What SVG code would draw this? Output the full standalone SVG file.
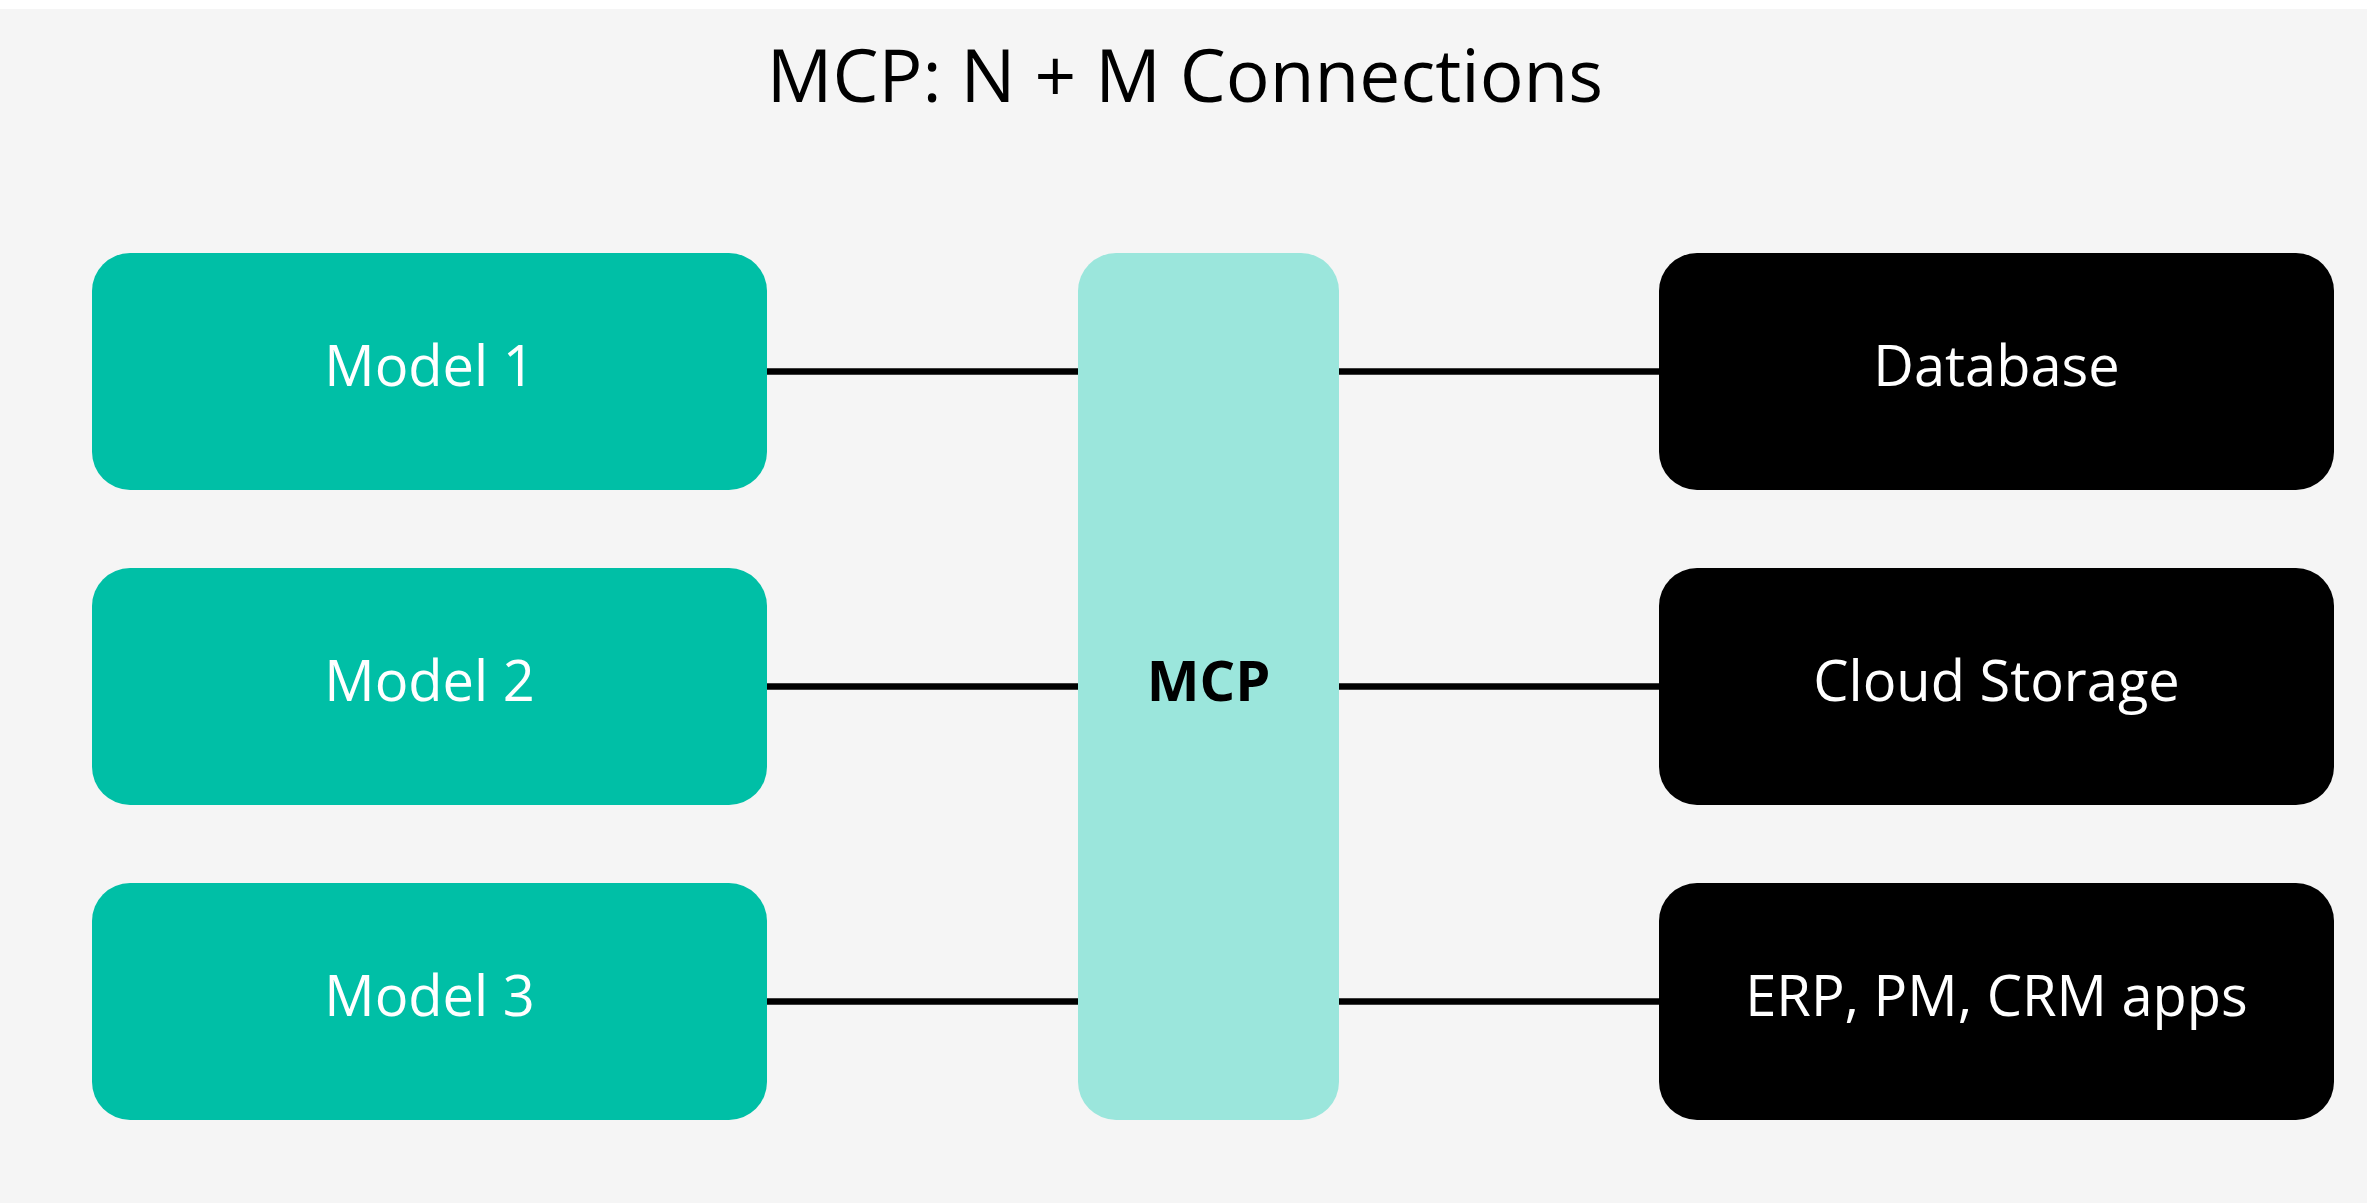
<svg xmlns="http://www.w3.org/2000/svg" width="2367" height="1203" viewBox="0 0 2367 1203">
  <style>
    .lbl { font-family: "Open Sans", "Liberation Sans", sans-serif; font-size: 56px; text-anchor: middle; }
    .model { fill: #00BFA6; }
    .res { fill: #000000; }
    .hub { fill: #9BE6DC; }
    .conn { stroke: #000000; stroke-width: 6.5; fill: none; }
  </style>
  <rect x="0" y="0" width="2367" height="1203" fill="#FFFFFF"/>
  <rect x="0" y="9" width="2367" height="1194" fill="#F5F5F5"/>
  <text x="1185" y="101.5" font-family="'Open Sans', 'Liberation Sans', sans-serif" font-size="73" text-anchor="middle" fill="#000000">MCP: N + M Connections</text>

  <g id="connectors">
    <line class="conn" x1="767" y1="371.5" x2="1078" y2="371.5"/>
    <line class="conn" x1="767" y1="686.5" x2="1078" y2="686.5"/>
    <line class="conn" x1="767" y1="1001.5" x2="1078" y2="1001.5"/>
    <line class="conn" x1="1339" y1="371.5" x2="1659" y2="371.5"/>
    <line class="conn" x1="1339" y1="686.5" x2="1659" y2="686.5"/>
    <line class="conn" x1="1339" y1="1001.5" x2="1659" y2="1001.5"/>
  </g>

  <g id="model1">
    <rect class="model" x="92" y="253" width="675" height="237" rx="38"/>
    <text class="lbl" x="429.5" y="386" fill="#FFFFFF">Model 1</text>
  </g>
  <g id="model2">
    <rect class="model" x="92" y="568" width="675" height="237" rx="38"/>
    <text class="lbl" x="429.5" y="701" fill="#FFFFFF">Model 2</text>
  </g>
  <g id="model3">
    <rect class="model" x="92" y="883" width="675" height="237" rx="38"/>
    <text class="lbl" x="429.5" y="1016" fill="#FFFFFF">Model 3</text>
  </g>

  <g id="mcp">
    <rect class="hub" x="1078" y="253" width="261" height="867" rx="38"/>
    <text class="lbl" x="1208.5" y="701" font-weight="bold" fill="#000000">MCP</text>
  </g>

  <g id="database">
    <rect class="res" x="1659" y="253" width="675" height="237" rx="38"/>
    <text class="lbl" x="1996.5" y="386" fill="#FFFFFF">Database</text>
  </g>
  <g id="cloud-storage">
    <rect class="res" x="1659" y="568" width="675" height="237" rx="38"/>
    <text class="lbl" x="1996.5" y="701" fill="#FFFFFF">Cloud Storage</text>
  </g>
  <g id="erp-apps">
    <rect class="res" x="1659" y="883" width="675" height="237" rx="38"/>
    <text class="lbl" x="1996.5" y="1016" fill="#FFFFFF">ERP, PM, CRM apps</text>
  </g>
</svg>
